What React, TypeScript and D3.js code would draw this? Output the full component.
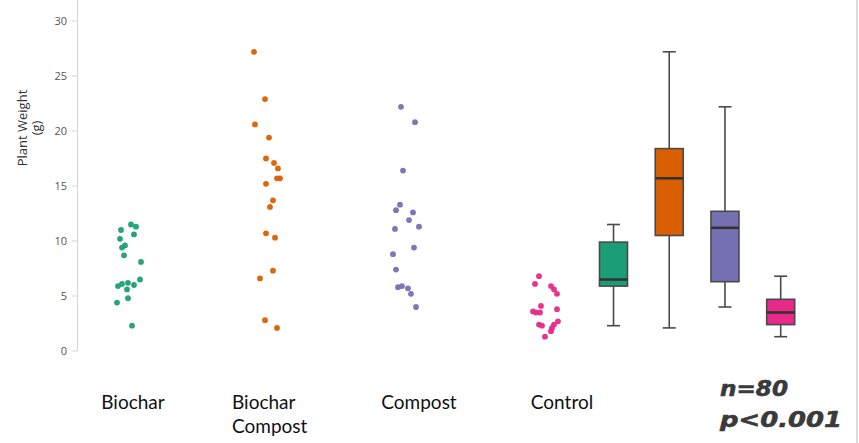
import * as d3 from 'd3';

// groups + colours (Dark2)
const groups = ['Biochar', 'Biochar Compost', 'Compost', 'Control'];
const colors = ['#1b9e77', '#d95f02', '#7570b3', '#e7298a'];
const yTicks = [0, 5, 10, 15, 20, 25, 30];

// plant weights, with the jitter offset of each dot
const biochar = [11.5, 11.3, 11.0, 10.6, 10.2, 9.6, 9.4, 8.7, 8.1, 6.5, 5.9, 6.1, 6.2, 6.0, 5.6, 4.4, 4.8, 2.3];
const biocharJitter = [3, 8, -7, 6, -8, -3, -6, -4, 13, 12, -10, -6, 0, 6, -1, -11, 0, 4];
const biocharCompost = [27.2, 22.9, 20.6, 19.4, 17.5, 17.1, 16.6, 15.7, 15.7, 15.2, 13.7, 13.1, 10.7, 10.3, 7.3, 6.6, 2.8, 2.1];
const biocharCompostJitter = [-13, -2, -12, 2, -1, 7, 11, 10, 13, -1, 6, 3, -1, 8, 6, -7, -2, 10];
const compost = [22.2, 20.8, 16.4, 13.3, 12.8, 12.6, 11.9, 11.3, 11.1, 9.4, 8.8, 7.4, 5.8, 5.9, 5.7, 5.2, 4.0];
const compostJitter = [-5, 9, -3, -6, -10, 7, 3, 13, -11, 8, -13, -10, -8, -4, 2, 5, 10];
const control = [6.8, 6.1, 5.9, 5.6, 5.2, 4.1, 3.6, 3.5, 3.5, 3.8, 2.4, 2.3, 2.7, 2.4, 2.1, 1.8, 1.3];
const controlJitter = [-6, -10, 6, 9, 12, -4, -12, -9, -5, 12, -6, -3, 13, 9, 7, 6, 0];

const values = [biochar, biocharCompost, compost, control];
const jitters = [biocharJitter, biocharCompostJitter, compostJitter, controlJitter];

// box plot summaries
const whiskerLow = [2.3, 2.1, 4.0, 1.3];
const q1 = [5.9, 10.5, 6.3, 2.4];
const median = [6.5, 15.7, 11.2, 3.5];
const q3 = [9.9, 18.4, 12.7, 4.7];
const whiskerHigh = [11.5, 27.2, 22.2, 6.8];

const W = 859;
const H = 443;
const labelFont = 'Lato, "Open Sans", sans-serif';

export default function App() {
  const y = d3.scaleLinear().domain([0, 30]).range([351, 21]);
  const xDots = d3.scalePoint<string>().domain(groups).range([128, 545]);
  const xBox = d3.scalePoint<string>().domain(groups).range([613.5, 780.7]);
  const xLabel = d3.scalePoint<string>().domain(groups).range([133, 562]);
  const boxW = 28;
  const capW = 13;

  return (
    <svg width={W} height={H} style={{ position: 'absolute', left: 0, top: 0, background: '#fff' }}>
      {/* y axis */}
      <line x1={77.5} x2={77.5} y1={0} y2={y(0)} stroke="#d4d4d4" strokeWidth={1} />
      {yTicks.map((t) => (
        <g key={t} transform={`translate(0,${y(t)})`}>
          <line x1={72} x2={77.5} stroke="#d4d4d4" />
          <text x={67} dy="0.35em" textAnchor="end" fontSize={11} fill="#555" fontFamily='"Open Sans", sans-serif'>
            {t}
          </text>
        </g>
      ))}
      <g transform={`translate(27,128) rotate(-90)`} fontFamily='"Open Sans", sans-serif' fontSize={13} fill="#333">
        <text textAnchor="middle" y={0}>Plant Weight</text>
        <text textAnchor="middle" y={14}>(g)</text>
      </g>

      {/* strip plot */}
      {groups.map((g, gi) => (
        <g key={g} fill={colors[gi]}>
          {values[gi].map((v, i) => (
            <circle key={i} cx={(xDots(g) ?? 0) + jitters[gi][i]} cy={y(v)} r={2.9} opacity={0.95} />
          ))}
        </g>
      ))}

      {/* box plots */}
      {groups.map((g, gi) => {
        const cx = xBox(g) ?? 0;
        return (
          <g key={g} stroke="#4a4a4a" strokeWidth={1.6}>
            <line x1={cx} x2={cx} y1={y(whiskerHigh[gi])} y2={y(q3[gi])} />
            <line x1={cx} x2={cx} y1={y(q1[gi])} y2={y(whiskerLow[gi])} />
            <line x1={cx - capW / 2} x2={cx + capW / 2} y1={y(whiskerHigh[gi])} y2={y(whiskerHigh[gi])} />
            <line x1={cx - capW / 2} x2={cx + capW / 2} y1={y(whiskerLow[gi])} y2={y(whiskerLow[gi])} />
            <rect x={cx - boxW / 2} width={boxW} y={y(q3[gi])} height={y(q1[gi]) - y(q3[gi])} fill={colors[gi]} />
            <line x1={cx - boxW / 2} x2={cx + boxW / 2} y1={y(median[gi])} y2={y(median[gi])} stroke="#333" strokeWidth={2.6} />
          </g>
        );
      })}

      {/* category labels: two-line label is left aligned under its dots */}
      {groups.map((g) => {
        const lines = g.split(' ');
        const multi = lines.length > 1;
        const x = multi ? (xDots(g) ?? 0) - 35 : xLabel(g) ?? 0;
        return (
          <text key={g} y={409} textAnchor={multi ? 'start' : 'middle'} fontFamily={labelFont} fontSize={19} fill="#111">
            {lines.map((l, i) => (
              <tspan key={i} x={x} dy={i === 0 ? 0 : 24}>
                {l}
              </tspan>
            ))}
          </text>
        );
      })}

      {/* stats note */}
      <g fontFamily='"DejaVu Sans", sans-serif' fontWeight={700} fontStyle="italic" fontSize={22}
        fill="#3a3a3a" stroke="#3a3a3a" strokeWidth={0.6}>
        <text x={720} y={396} textLength={68} lengthAdjust="spacingAndGlyphs">n=80</text>
        <text x={720} y={427} textLength={122} lengthAdjust="spacingAndGlyphs">p&lt;0.001</text>
      </g>

      {/* slide edge */}
      <line x1={857} x2={857} y1={0} y2={H} stroke="#dcdcdc" strokeWidth={2} />
    </svg>
  );
}
